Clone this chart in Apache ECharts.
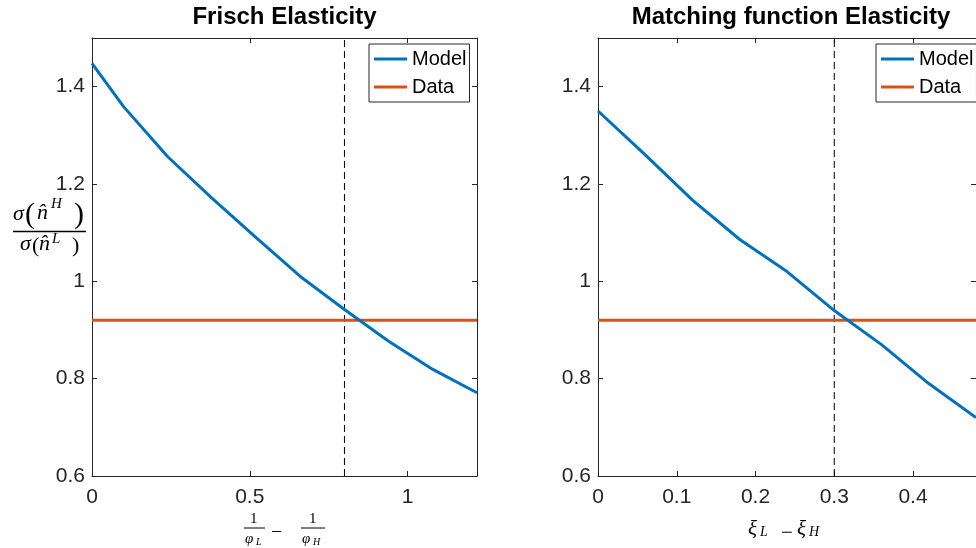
<!DOCTYPE html>
<html>
<head>
<meta charset="utf-8">
<script src="https://cdn.jsdelivr.net/npm/echarts@6/dist/echarts.min.js"></script>
<style>
  html, body { margin: 0; padding: 0; background: #fff; }
  #chart { width: 976px; height: 548px; }
</style>
</head>
<body>
<div id="chart"></div>
<script>
// values
var frischX = [0, 0.1, 0.24, 0.38, 0.52, 0.66, 0.8, 0.94, 1.08, 1.22];
var frischModel = [1.448, 1.359, 1.256, 1.171, 1.09, 1.01, 0.942, 0.877, 0.819, 0.771];
var matchX = [0, 0.06, 0.12, 0.18, 0.24, 0.3, 0.36, 0.42, 0.48];
var matchModel = [1.35, 1.26, 1.167, 1.086, 1.02, 0.94, 0.87, 0.79, 0.72];
var dataLevel = 0.92;
var frischCutoff = 0.8;
var matchCutoff = 0.3;
var titles = ['Frisch Elasticity', 'Matching function Elasticity'];
var legendNames = ['Model', 'Data'];

var blue = '#0072BD', orange = '#D95319', ink = '#262626';
var font = "'Liberation Sans', Arial, sans-serif";
var mathFont = "'Liberation Serif', 'DejaVu Serif', serif";

function pairs(xs, ys) {
  return xs.map(function (x, i) { return [x, ys[i]]; });
}

function xAxisFor(grid, max, interval, top) {
  return {
    type: 'value', gridIndex: grid, min: 0, max: max, interval: interval,
    position: top ? 'top' : 'bottom',
    splitLine: { show: false },
    axisLine: { show: true, lineStyle: { color: ink, width: 1 } },
    axisTick: { show: true, inside: true, length: 5, lineStyle: { color: ink } },
    axisLabel: { show: !top, showMaxLabel: false, margin: 11, color: ink, fontSize: 21, fontFamily: font }
  };
}
function yAxisFor(grid, right) {
  return {
    type: 'value', gridIndex: grid, min: 0.6, max: 1.5, interval: 0.2,
    position: right ? 'right' : 'left',
    splitLine: { show: false },
    axisLine: { show: true, onZero: false, lineStyle: { color: ink, width: 1 } },
    axisTick: { show: true, inside: true, length: 5, lineStyle: { color: ink } },
    axisLabel: { show: !right, showMaxLabel: false, margin: 7, color: ink, fontSize: 21, fontFamily: font }
  };
}

function seriesFor(ax, xs, ys, cutoff, xmax) {
  return [
    { name: 'Model', type: 'line', xAxisIndex: ax, yAxisIndex: ax, data: pairs(xs, ys),
      symbol: 'none', color: blue, lineStyle: { color: blue, width: 3 }, z: 3 },
    { name: 'Data', type: 'line', xAxisIndex: ax, yAxisIndex: ax, data: [[0, dataLevel], [xmax, dataLevel]],
      symbol: 'none', color: orange, lineStyle: { color: orange, width: 3 }, z: 2 },
    { name: 'cutoff', type: 'line', xAxisIndex: ax, yAxisIndex: ax, data: [[cutoff, 0.6], [cutoff, 1.5]],
      symbol: 'none', silent: true, lineStyle: { color: '#000', width: 1, type: [7, 4] }, z: 1 }
  ];
}

function legendAt(left) {
  return {
    data: legendNames, orient: 'vertical', left: left, top: 44,
    backgroundColor: '#fff', borderColor: ink, borderWidth: 1, borderRadius: 0,
    padding: [3, 3, 3, 5], itemGap: 4, itemWidth: 33, itemHeight: 3, icon: 'rect',
    textStyle: { color: '#000', fontSize: 20, fontFamily: font, lineHeight: 24 },
    selectedMode: false
  };
}

function txt(left, top, text, f) {
  return { type: 'text', left: left, top: top, style: { text: text, font: f, fill: '#000' } };
}
function rule(x1, x2, y, w) {
  return { type: 'line', shape: { x1: x1, y1: y, x2: x2, y2: y }, style: { stroke: '#000', lineWidth: w } };
}

var chart = echarts.init(document.getElementById('chart'), null, { renderer: 'canvas' });
chart.setOption({
  animation: false,
  backgroundColor: '#fff',
  title: [
    { text: titles[0], left: 284.5, top: 5, textAlign: 'center', padding: 0,
      textStyle: { fontSize: 24, fontWeight: 'bold', color: '#000', fontFamily: font } },
    { text: titles[1], left: 791, top: 5, textAlign: 'center', padding: 0,
      textStyle: { fontSize: 24, fontWeight: 'bold', color: '#000', fontFamily: font } }
  ],
  legend: [legendAt(369), legendAt(876)],
  grid: [
    { left: 92, top: 38, width: 385, height: 438 },
    { left: 598, top: 38, width: 386, height: 438 }
  ],
  xAxis: [
    xAxisFor(0, 1.22, 0.5, false),
    xAxisFor(0, 1.22, 0.5, true),
    xAxisFor(1, 0.48, 0.1, false),
    xAxisFor(1, 0.48, 0.1, true)
  ],
  yAxis: [
    yAxisFor(0, false),
    yAxisFor(0, true),
    yAxisFor(1, false),
    yAxisFor(1, true)
  ],
  series: seriesFor(0, frischX, frischModel, frischCutoff, 1.22)
    .concat(seriesFor(2, matchX, matchModel, matchCutoff, 0.48)),
  graphic: [
    // y label: sigma(n^H) / sigma(n^L)
    txt(13, 203, 'σ', 'italic 22px ' + mathFont),
    txt(25, 200, '(', '30px ' + mathFont),
    txt(37, 202, 'n̂', 'italic 22px ' + mathFont),
    txt(51, 197, 'H', 'italic 15px ' + mathFont),
    txt(74, 200, ')', '30px ' + mathFont),
    rule(13, 86, 231.5, 1.5),
    txt(20, 233, 'σ', 'italic 22px ' + mathFont),
    txt(32, 235, '(', '22px ' + mathFont),
    txt(39, 233, 'n̂', 'italic 22px ' + mathFont),
    txt(52, 232, 'L', 'italic 15px ' + mathFont),
    txt(72, 235, ')', '22px ' + mathFont),
    // left x label: 1/phi_L - 1/phi_H
    txt(250, 512, '1', '15px ' + mathFont),
    rule(244, 265, 528, 1),
    txt(245, 532, 'φ', 'italic 15px ' + mathFont),
    txt(256, 537, 'L', 'italic 10px ' + mathFont),
    txt(271, 523, '−', '20px ' + mathFont),
    txt(309, 512, '1', '15px ' + mathFont),
    rule(301, 325, 528, 1),
    txt(302, 532, 'φ', 'italic 15px ' + mathFont),
    txt(313, 537, 'H', 'italic 10px ' + mathFont),
    // right x label: xi_L - xi_H
    txt(748, 519, 'ξ', 'italic 21px ' + mathFont),
    txt(760, 525, 'L', 'italic 14px ' + mathFont),
    txt(781, 523, '−', '21px ' + mathFont),
    txt(797, 519, 'ξ', 'italic 21px ' + mathFont),
    txt(809, 525, 'H', 'italic 14px ' + mathFont)
  ]
});
</script>
</body>
</html>
